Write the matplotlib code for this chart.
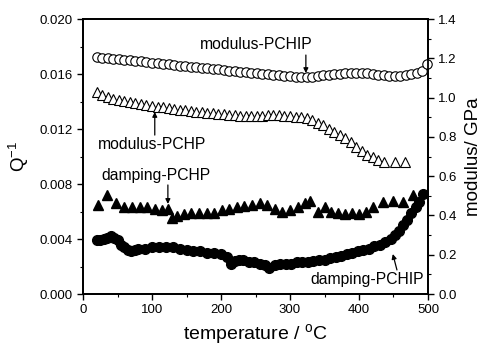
import matplotlib
matplotlib.use("Agg")
import matplotlib.pyplot as plt
from matplotlib.ticker import MultipleLocator, FormatStrFormatter

plt.rcParams['font.family'] = ['Liberation Sans', 'DejaVu Sans']
plt.rcParams['mathtext.default'] = 'regular'

# modulus-PCHIP (open circles, right axis, GPa)
t_mod_pchip = [20, 28, 36, 44, 52, 60, 68, 76, 84, 92, 100, 108, 116, 124, 132, 140,
               148, 156, 164, 172, 180, 188, 196, 204, 212, 220, 228, 236, 244, 252,
               260, 268, 276, 284, 292, 300, 308, 316, 324, 332, 340, 348, 356, 364,
               372, 380, 388, 396, 404, 412, 420, 428, 436, 444, 452, 460, 468, 476,
               484, 492, 498]
mod_pchip = [1.207, 1.204, 1.201, 1.198, 1.195, 1.193, 1.190, 1.187, 1.184, 1.181,
             1.178, 1.175, 1.172, 1.169, 1.166, 1.163, 1.160, 1.157, 1.155, 1.152,
             1.149, 1.146, 1.143, 1.140, 1.137, 1.134, 1.131, 1.128, 1.125, 1.123,
             1.121, 1.118, 1.116, 1.113, 1.111, 1.109, 1.107, 1.105, 1.105, 1.107,
             1.110, 1.113, 1.116, 1.119, 1.121, 1.123, 1.124, 1.125, 1.125, 1.123,
             1.120, 1.117, 1.114, 1.111, 1.110, 1.111, 1.114, 1.118, 1.125, 1.135,
             1.170]

# modulus-PCHP (open triangles, right axis, GPa)
t_mod_pchp = [20, 28, 36, 44, 52, 60, 68, 76, 84, 92, 100, 108, 116, 124, 132, 140,
              148, 156, 164, 172, 180, 188, 196, 204, 212, 220, 228, 236, 244, 252,
              260, 268, 276, 284, 292, 300, 308, 316, 324, 332, 340, 348, 356, 364,
              372, 380, 388, 396, 404, 412, 420, 428, 436, 452, 467]
mod_pchp = [1.028, 1.015, 1.004, 0.995, 0.988, 0.982, 0.976, 0.971, 0.966, 0.962,
            0.958, 0.954, 0.950, 0.946, 0.942, 0.938, 0.935, 0.931, 0.928, 0.925,
            0.922, 0.919, 0.917, 0.914, 0.912, 0.909, 0.907, 0.905, 0.904, 0.905,
            0.907, 0.909, 0.910, 0.910, 0.908, 0.905, 0.902, 0.899, 0.895, 0.885,
            0.872, 0.858, 0.842, 0.826, 0.810, 0.792, 0.772, 0.750, 0.728, 0.710,
            0.695, 0.680, 0.672, 0.672, 0.672]

# damping-PCHP (filled triangles, left axis, Q^-1)
t_damp_pchp = [22, 35, 48, 60, 71, 82, 93, 104, 115, 123, 129, 136, 146, 157, 168,
               179, 190, 201, 212, 223, 234, 245, 256, 267, 278, 289, 300, 311, 322,
               329, 340, 350, 360, 370, 380, 390, 400, 410, 420, 435, 449, 464, 478]
damp_pchp = [0.0065, 0.0072, 0.0066, 0.0063, 0.0063, 0.0063, 0.0063, 0.0062, 0.0061,
             0.0062, 0.0055, 0.0057, 0.0058, 0.0059, 0.0059, 0.0059, 0.0059, 0.0061,
             0.0062, 0.0063, 0.0064, 0.0065, 0.0066, 0.0065, 0.0062, 0.0060, 0.0061,
             0.0063, 0.0066, 0.0068, 0.0060, 0.0063, 0.0060, 0.0059, 0.0058, 0.0059,
             0.0058, 0.0060, 0.0063, 0.0067, 0.0068, 0.0067, 0.0072]

# damping-PCHIP (filled circles, left axis, Q^-1)
t_damp_pchip = [20, 25, 30, 35, 40, 45, 50, 55, 60, 65, 70, 75, 80, 90, 100, 110, 120,
                130, 140, 150, 160, 170, 180, 190, 200, 208, 214, 220, 226, 232, 240,
                248, 256, 264, 270, 278, 286, 294, 302, 310, 318, 326, 334, 342, 350,
                358, 366, 374, 382, 390, 398, 406, 414, 422, 430, 438, 446, 452, 458,
                464, 470, 476, 482, 487, 493]
damp_pchip = [0.0039, 0.0039, 0.0040, 0.0041, 0.0042, 0.0041, 0.0039, 0.0036, 0.0034,
              0.0032, 0.0031, 0.0032, 0.0033, 0.0033, 0.0034, 0.0034, 0.0034, 0.0034,
              0.0033, 0.0032, 0.0031, 0.0031, 0.0030, 0.0030, 0.0029, 0.0027, 0.0022,
              0.0024, 0.0025, 0.0025, 0.0023, 0.0023, 0.0022, 0.0021, 0.0019, 0.0021,
              0.0022, 0.0022, 0.0022, 0.0023, 0.0023, 0.0023, 0.0024, 0.0025, 0.0025,
              0.0026, 0.0027, 0.0028, 0.0029, 0.0030, 0.0031, 0.0032, 0.0033, 0.0035,
              0.0036, 0.0038, 0.0040, 0.0043, 0.0046, 0.0050, 0.0054, 0.0059, 0.0063,
              0.0067, 0.0073]

fig = plt.figure(figsize=(4.81, 3.45), dpi=100)
ax = fig.add_axes([0.1726, 0.1478, 0.7172, 0.7971])
ax2 = ax.twinx()

ax2.plot(t_mod_pchip, mod_pchip, 'o', ms=6.8, mfc='white', mec='black', mew=0.8, clip_on=False)
ax2.plot(t_mod_pchp, mod_pchp, '^', ms=7.2, mfc='white', mec='black', mew=0.8)
ax.plot(t_damp_pchp, damp_pchp, '^', ms=7.2, color='black')
ax.plot(t_damp_pchip, damp_pchip, 'o', ms=7.0, color='black', clip_on=False)

ax.set_xlim(0, 500)
ax.set_ylim(0, 0.020)
ax2.set_ylim(0, 1.4)

ax.xaxis.set_major_locator(MultipleLocator(100))
ax.xaxis.set_minor_locator(MultipleLocator(50))
ax.yaxis.set_major_locator(MultipleLocator(0.004))
ax.yaxis.set_minor_locator(MultipleLocator(0.002))
ax.yaxis.set_major_formatter(FormatStrFormatter('%.3f'))
ax2.yaxis.set_major_locator(MultipleLocator(0.2))
ax2.yaxis.set_minor_locator(MultipleLocator(0.1))
ax2.yaxis.set_major_formatter(FormatStrFormatter('%.1f'))

for a in (ax, ax2):
    a.tick_params(which='major', direction='out', length=4, width=1.0, labelsize=9.5)
    a.tick_params(which='minor', direction='out', length=2.5, width=0.8)
    for s in a.spines.values():
        s.set_linewidth(1.3)

ax.set_xlabel('temperature / $^{o}$C', fontsize=14, labelpad=4)
ax.set_ylabel('Q$^{-1}$', fontsize=13.5, labelpad=6)
ax2.set_ylabel('modulus/ GPa', fontsize=13.5, labelpad=6)

arrow = dict(arrowstyle='-|>', lw=0.9, color='black', mutation_scale=7, shrinkA=0, shrinkB=0)
fs = 11.3
ax.text(251, 0.01811, 'modulus-PCHIP', ha='center', va='center', fontsize=fs)
ax.annotate('', xy=(323, 0.01607), xytext=(323, 0.01738), arrowprops=arrow)
ax.text(100, 0.01084, 'modulus-PCHP', ha='center', va='center', fontsize=fs)
ax.annotate('', xy=(104, 0.01324), xytext=(104, 0.01156), arrowprops=arrow)
ax.text(106, 0.00865, 'damping-PCHP', ha='center', va='center', fontsize=fs)
ax.annotate('', xy=(123, 0.00655), xytext=(123, 0.00793), arrowprops=arrow)
ax.text(412, 0.00102, 'damping-PCHIP', ha='center', va='center', fontsize=fs)
ax.annotate('', xy=(449, 0.00291), xytext=(455, 0.00175), arrowprops=arrow)

fig.savefig('out.png', dpi=100)
